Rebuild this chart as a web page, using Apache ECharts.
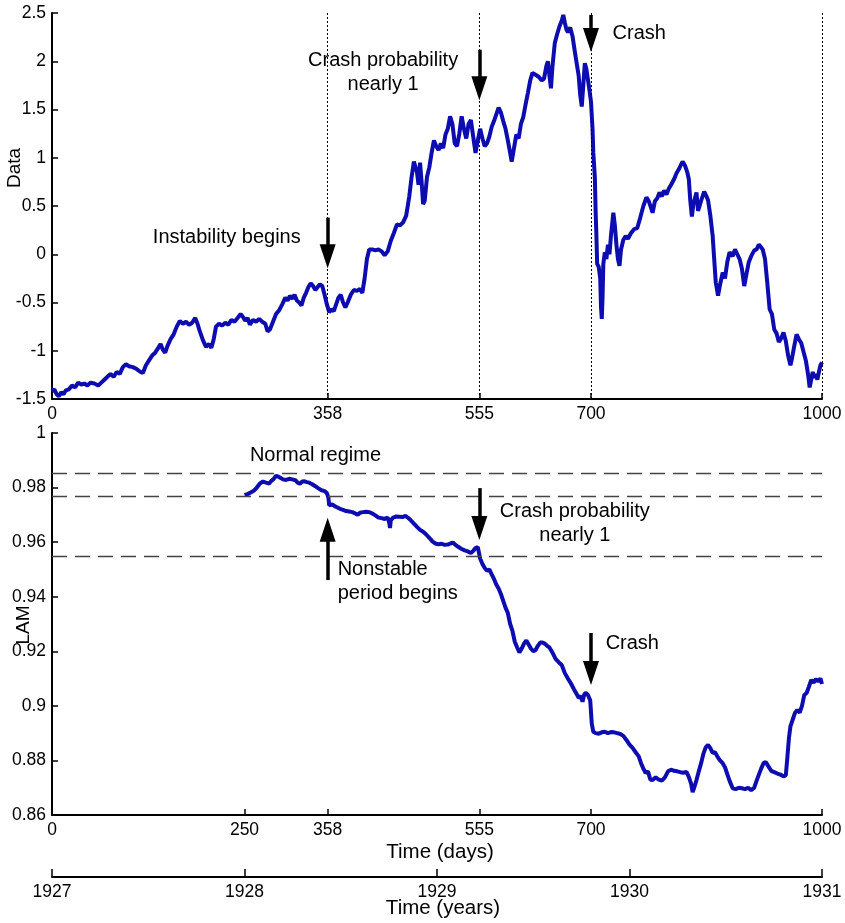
<!DOCTYPE html>
<html>
<head>
<meta charset="utf-8">
<script src="https://cdn.jsdelivr.net/npm/echarts@6/dist/echarts.min.js"></script>
<style>
html,body{margin:0;padding:0;background:#fff;}
#chart{width:845px;height:923px;}
</style>
</head>
<body>
<div id="chart"></div>
<script>
// ---------- DATA ----------
const topDays = [0,3,6,9,12,15,18,22,26,30,34,38,42,46,50,55,60,64,68,72,76,80,84,88,92,96,100,105,110,115,118,122,126,130,134,138,141,144,147,150,154,158,162,166,170,174,178,182,186,189,192,196,200,204,207,210,213,217,221,225,229,233,237,241,245,248,251,254,257,261,265,269,273,277,280,283,287,291,295,299,303,306,309,312,315,318,321,324,327,330,333,336,339,342,345,348,351,354,357,360,363,366,369,372,375,378,381,384,388,392,396,400,403,406,409,412,416,420,424,428,432,436,440,444,448,452,456,460,464,467,470,472,474,476,478,480,482,484,487,490,493,496,499,502,505,508,511,514,517,520,523,526,529,532,535,538,541,544,547,550,553,556,559,562,565,568,571,574,577,580,583,586,589,592,595,597,600,603,606,609,612,615,618,621,624,628,632,636,639,642,644,646,648,650,653,656,659,662,664,666,668,670,673,676,679,682,684,686,688,690,692,694,696,698,700,702,703,705,706,707,708,710,712,713,714,715,716,718,720,722,724,726,729,731,733,735,737,739,742,745,748,752,756,760,764,768,772,775,778,780,783,786,789,792,795,798,801,804,808,811,814,817,819,822,825,827,829,831,833,835,837,839,841,844,847,850,852,855,858,860,862,865,868,871,874,877,880,884,887,890,893,896,899,902,905,908,912,915,918,920,923,926,929,932,935,938,941,944,947,950,953,956,959,961,964,967,970,973,976,979,982,984,986,988,990,992,994,996,998,1000];
const topValues = [-1.42,-1.40,-1.45,-1.47,-1.43,-1.45,-1.41,-1.40,-1.36,-1.38,-1.33,-1.35,-1.34,-1.36,-1.33,-1.34,-1.36,-1.33,-1.30,-1.27,-1.24,-1.27,-1.22,-1.24,-1.17,-1.14,-1.16,-1.17,-1.19,-1.22,-1.23,-1.15,-1.10,-1.05,-1.02,-0.97,-0.93,-0.99,-1.02,-0.95,-0.88,-0.83,-0.75,-0.69,-0.72,-0.70,-0.73,-0.71,-0.66,-0.72,-0.80,-0.89,-0.96,-0.93,-0.97,-0.88,-0.75,-0.72,-0.74,-0.71,-0.73,-0.68,-0.70,-0.66,-0.62,-0.65,-0.69,-0.66,-0.73,-0.68,-0.70,-0.67,-0.70,-0.72,-0.80,-0.78,-0.70,-0.62,-0.58,-0.52,-0.45,-0.48,-0.43,-0.46,-0.42,-0.48,-0.50,-0.53,-0.45,-0.40,-0.34,-0.30,-0.33,-0.37,-0.34,-0.31,-0.33,-0.42,-0.52,-0.60,-0.57,-0.59,-0.52,-0.45,-0.42,-0.50,-0.55,-0.50,-0.42,-0.37,-0.38,-0.36,-0.40,-0.25,-0.05,0.05,0.05,0.04,0.05,0.03,-0.01,0.03,0.14,0.22,0.31,0.30,0.33,0.40,0.60,0.80,0.96,0.98,0.85,0.72,0.95,0.75,0.52,0.55,0.80,0.90,1.05,1.18,1.12,1.08,1.15,1.10,1.24,1.30,1.43,1.35,1.15,1.12,1.25,1.43,1.30,1.20,1.35,1.39,1.22,1.05,1.18,1.30,1.20,1.12,1.15,1.22,1.32,1.38,1.45,1.52,1.47,1.38,1.30,1.18,1.05,0.96,1.10,1.24,1.20,1.35,1.42,1.55,1.67,1.80,1.88,1.86,1.84,1.80,1.82,1.95,2.00,1.85,1.72,1.95,2.19,2.28,2.36,2.42,2.48,2.40,2.33,2.30,2.35,2.26,2.10,1.95,1.85,1.65,1.53,1.75,1.98,1.92,1.81,1.70,1.58,1.30,1.05,0.80,0.45,0.20,-0.10,-0.13,-0.25,-0.55,-0.67,-0.45,-0.10,0.02,-0.05,0.10,0.00,0.20,0.43,0.30,0.10,-0.05,-0.12,0.05,0.15,0.19,0.16,0.22,0.26,0.27,0.38,0.50,0.59,0.55,0.48,0.43,0.55,0.58,0.64,0.60,0.66,0.62,0.68,0.72,0.78,0.84,0.88,0.93,0.96,0.92,0.85,0.78,0.55,0.39,0.52,0.58,0.64,0.45,0.50,0.58,0.65,0.60,0.56,0.40,0.19,-0.05,-0.29,-0.43,-0.30,-0.19,-0.25,-0.08,0.02,-0.02,0.05,0.00,-0.05,-0.15,-0.33,-0.20,-0.08,-0.02,0.04,0.05,0.10,0.12,0.05,-0.05,-0.30,-0.57,-0.62,-0.78,-0.82,-0.91,-0.87,-0.81,-0.90,-1.05,-1.15,-1.08,-0.95,-0.83,-0.88,-0.92,-1.01,-1.10,-1.25,-1.38,-1.30,-1.22,-1.28,-1.24,-1.30,-1.22,-1.15,-1.12];

const lamDays = [250,254,258,262,266,270,274,278,282,285,288,291,294,297,300,304,308,312,316,319,322,325,328,331,334,338,342,346,350,354,357,359,360,362,364,367,370,374,378,382,386,390,394,397,400,404,408,412,416,420,424,428,432,436,438,439,440,443,447,451,455,459,462,466,470,474,478,482,486,490,494,498,502,506,510,514,518,521,524,528,532,536,540,544,547,550,553,556,559,562,565,568,571,574,577,580,583,586,589,592,595,598,601,604,607,610,613,616,619,622,625,628,631,634,637,640,643,646,650,654,658,662,666,670,674,678,681,684,687,689,691,693,696,699,701,703,706,710,714,718,722,726,730,734,738,742,746,750,754,758,762,765,768,771,774,777,780,784,788,792,796,800,804,808,812,816,820,824,827,830,832,834,837,840,843,846,849,852,855,858,861,864,867,871,874,877,880,884,888,892,896,900,904,908,912,915,918,921,924,927,930,934,938,942,946,950,953,955,957,959,962,965,968,971,974,977,980,983,986,989,992,995,998,1000];
const lamValues = [0.9773,0.9776,0.9782,0.9788,0.9800,0.9815,0.9822,0.9818,0.9815,0.9825,0.9832,0.9843,0.9840,0.9835,0.9830,0.9828,0.9832,0.9830,0.9827,0.9818,0.9814,0.9822,0.9823,0.9820,0.9818,0.9812,0.9805,0.9797,0.9790,0.9787,0.9780,0.9762,0.9735,0.9728,0.9738,0.9732,0.9728,0.9722,0.9718,0.9714,0.9712,0.9710,0.9705,0.9700,0.9708,0.9710,0.9711,0.9710,0.9705,0.9698,0.9690,0.9688,0.9685,0.9690,0.9670,0.9652,0.9680,0.9690,0.9694,0.9693,0.9692,0.9696,0.9690,0.9680,0.9668,0.9656,0.9645,0.9638,0.9628,0.9616,0.9603,0.9595,0.9592,0.9594,0.9590,0.9591,0.9596,0.9598,0.9590,0.9582,0.9575,0.9570,0.9566,0.9560,0.9568,0.9578,0.9582,0.9540,0.9520,0.9505,0.9495,0.9500,0.9482,0.9465,0.9445,0.9430,0.9410,0.9385,0.9360,0.9340,0.9300,0.9275,0.9235,0.9215,0.9196,0.9210,0.9228,0.9240,0.9225,0.9210,0.9200,0.9205,0.9220,0.9232,0.9232,0.9228,0.9220,0.9214,0.9195,0.9172,0.9160,0.9150,0.9120,0.9100,0.9082,0.9060,0.9045,0.9030,0.9035,0.9015,0.9040,0.9048,0.9040,0.9020,0.8935,0.8905,0.8900,0.8898,0.8903,0.8905,0.8900,0.8904,0.8903,0.8900,0.8897,0.8890,0.8875,0.8858,0.8846,0.8830,0.8815,0.8790,0.8770,0.8754,0.8760,0.8730,0.8728,0.8738,0.8730,0.8726,0.8738,0.8760,0.8766,0.8762,0.8760,0.8757,0.8755,0.8758,0.8740,0.8715,0.8684,0.8700,0.8728,0.8760,0.8790,0.8825,0.8848,0.8857,0.8845,0.8828,0.8830,0.8815,0.8802,0.8790,0.8775,0.8750,0.8725,0.8698,0.8695,0.8700,0.8698,0.8695,0.8700,0.8691,0.8700,0.8725,0.8748,0.8770,0.8790,0.8794,0.8780,0.8762,0.8757,0.8752,0.8748,0.8742,0.8745,0.8810,0.8880,0.8925,0.8950,0.8975,0.8985,0.8975,0.9000,0.9040,0.9047,0.9070,0.9095,0.9085,0.9098,0.9090,0.9100,0.9080];

const topTickDays = [0,358,555,700,1000];
const bottomTickDays = [0,250,358,555,700,1000];
const topEventDays = [358,555,700,1000];
const bottomEventDays = [250,358,555,700,1000];
const lamThresholds = [0.9852,0.9767,0.9549];
const yearTicks = [1927,1928,1929,1930,1931];

// annotation anchors in data units
const topTexts = [
  {t:'Instability begins', c:[227,0.175], align:'center'},
  {t:'Crash probability\nnearly 1', c:[430,1.88], align:'center'},
  {t:'Crash', c:[728,2.29], align:'left'}
];
// arrows: [tail, head-centre]
const topArrows = [[[358,0.38],[358,-0.02]],[[555,2.12],[555,1.72]],[[700,2.48],[700,2.22]]];
const lamTexts = [
  {t:'Normal regime', c:[257,0.9919], align:'left'},
  {t:'Nonstable\nperiod begins', c:[371,0.9455], align:'left'},
  {t:'Crash probability\nnearly 1', c:[679,0.9668], align:'center'},
  {t:'Crash', c:[719,0.923], align:'left'}
];
const lamArrows = [[[358,0.9461],[358,0.9645]],[[555,0.9798],[555,0.9652]],[[700,0.9267],[700,0.9120]]];

// ---------- CHART ----------
const FONT = 'Liberation Sans, Arial, sans-serif';
const BLUE = '#0c0cb0';
const chart = echarts.init(document.getElementById('chart'), null, {renderer:'canvas'});

function zip(a,b){return a.map((v,i)=>[v,b[i]]);}
function axisX(gridIndex, ticks){
  return {
    type:'value', gridIndex, min:0, max:1000,
    axisLine:{show:true, onZero:false, lineStyle:{color:'#000', width:2}},
    axisTick:{show:true, inside:true, length:6, customValues:ticks, lineStyle:{color:'#000', width:1.5}},
    axisLabel:{customValues:ticks, fontSize:17.5, color:'#000', fontFamily:FONT, margin:6, formatter:v=>String(v)},
    splitLine:{show:false}
  };
}
function textPoints(list){
  return list.map(o=>({
    coord:o.c, symbol:'circle', symbolSize:0,
    label:{show:true, formatter:o.t, position:'inside', align:o.align, verticalAlign:'middle',
      fontSize:20, lineHeight:24, color:'#000', fontFamily:FONT}
  }));
}
function arrowLines(list){
  return list.map(a=>[{coord:a[0]},{coord:a[1]}]);
}

const option = {
  backgroundColor:'#fff',
  animation:false,
  grid:[
    {left:52, right:23, top:13, height:386},
    {left:52, right:23, top:433, height:382},
    {left:52, right:23, top:869, height:8}
  ],
  xAxis:[
    axisX(0, topTickDays),
    axisX(1, bottomTickDays),
    {type:'value', gridIndex:2, min:1927, max:1931, interval:1,
      axisLine:{show:true, onZero:false, lineStyle:{color:'#000', width:2}},
      axisTick:{show:true, inside:true, length:8, customValues:yearTicks, lineStyle:{color:'#000', width:1.5}},
      axisLabel:{customValues:yearTicks, fontSize:17.5, color:'#000', fontFamily:FONT, margin:6, formatter:v=>String(v)},
      splitLine:{show:false}}
  ],
  yAxis:[
    {type:'value', gridIndex:0, min:-1.5, max:2.5, interval:0.5,
      axisLine:{show:true, onZero:false, lineStyle:{color:'#000', width:2}},
      axisTick:{show:true, inside:true, length:6, lineStyle:{color:'#000', width:1.5}},
      axisLabel:{fontSize:17.5, color:'#000', fontFamily:FONT, margin:6},
      splitLine:{show:false}},
    {type:'value', gridIndex:1, min:0.86, max:1, interval:0.02,
      axisLine:{show:true, onZero:false, lineStyle:{color:'#000', width:2}},
      axisTick:{show:true, inside:true, length:6, lineStyle:{color:'#000', width:1.5}},
      axisLabel:{fontSize:17.5, color:'#000', fontFamily:FONT, margin:6, formatter:v=>String(+v.toFixed(2))},
      splitLine:{show:false}},
    {type:'value', gridIndex:2, min:0, max:1, show:false}
  ],
  graphic:[
    {type:'text', x:15, y:168, rotation:Math.PI/2,
      style:{text:'Data', fontSize:19, fontFamily:FONT, fill:'#000', textAlign:'center', textVerticalAlign:'middle'}},
    {type:'text', x:24, y:625, rotation:Math.PI/2,
      style:{text:'LAM', fontSize:19, fontFamily:FONT, fill:'#000', textAlign:'center', textVerticalAlign:'middle'}},
    {type:'text', x:440, y:852,
      style:{text:'Time (days)', fontSize:20.5, fontFamily:FONT, fill:'#000', textAlign:'center', textVerticalAlign:'middle'}},
    {type:'text', x:443, y:908,
      style:{text:'Time (years)', fontSize:20.5, fontFamily:FONT, fill:'#000', textAlign:'center', textVerticalAlign:'middle'}}
  ],
  series:[
    {type:'line', xAxisIndex:0, yAxisIndex:0, data:[], silent:true,
      markLine:{silent:true, symbol:['none','none'], label:{show:false}, precision:4,
        lineStyle:{type:[2,2], color:'#000', width:1},
        data: topEventDays.map(d=>({xAxis:d}))}},
    {type:'line', xAxisIndex:0, yAxisIndex:0, data:zip(topDays, topValues),
      showSymbol:false, symbol:'none', lineStyle:{color:BLUE, width:4}, z:3,
      markLine:{silent:true, symbol:['none','triangle'], symbolSize:[16,24], label:{show:false}, precision:4,
        lineStyle:{type:'solid', color:'#000', width:3.5},
        data: arrowLines(topArrows)},
      markPoint:{silent:true, data:textPoints(topTexts)}},
    {type:'line', xAxisIndex:1, yAxisIndex:1, data:[], silent:true,
      markLine:{silent:true, symbol:['none','none'], label:{show:false}, precision:4,
        lineStyle:{type:[15,8], color:'#444', width:1.3},
        data: lamThresholds.map(v=>({yAxis:v}))}},
    {type:'line', xAxisIndex:1, yAxisIndex:1, data:zip(lamDays, lamValues),
      showSymbol:false, symbol:'none', lineStyle:{color:BLUE, width:4}, z:3,
      markLine:{silent:true, symbol:['none','triangle'], symbolSize:[16,24], label:{show:false}, precision:4,
        lineStyle:{type:'solid', color:'#000', width:3.5},
        data: arrowLines(lamArrows)},
      markPoint:{silent:true, data:textPoints(lamTexts)}},
    {type:'line', xAxisIndex:2, yAxisIndex:2, data:[], silent:true}
  ]
};
chart.setOption(option);
</script>
</body>
</html>
